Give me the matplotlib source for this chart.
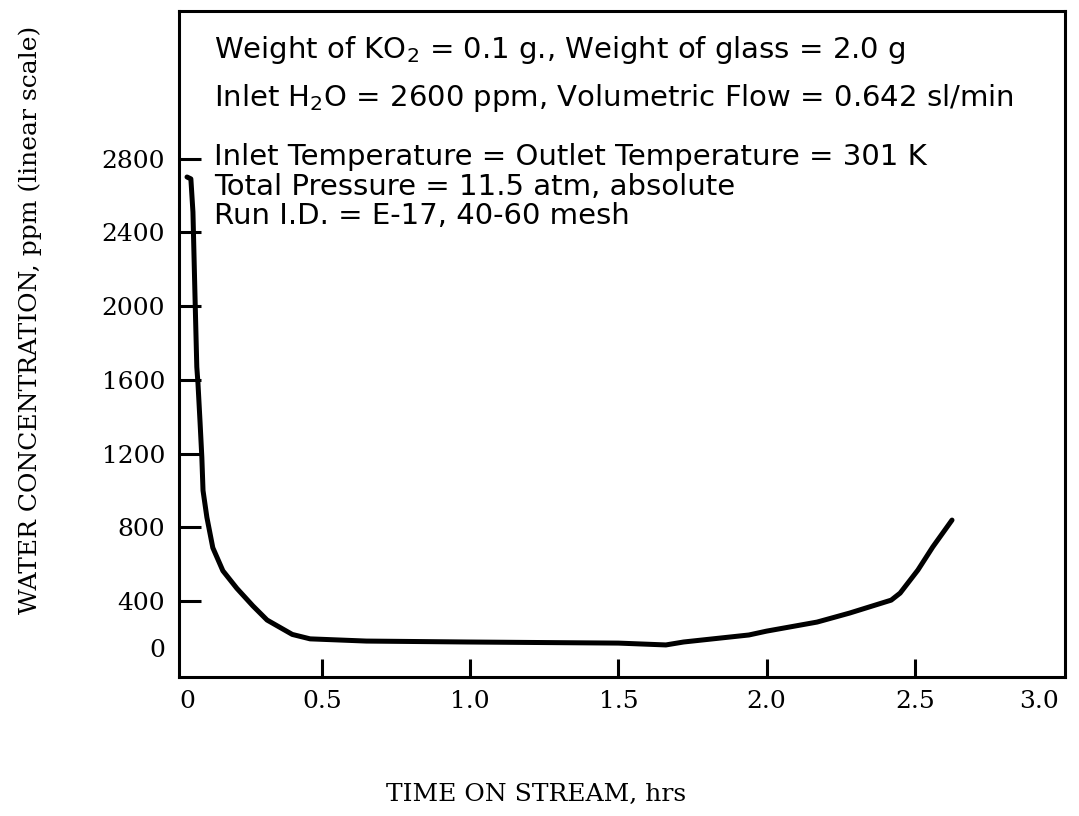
import matplotlib
matplotlib.use("Agg")
import matplotlib.pyplot as plt

# ---- data ----
time_hrs = [0.045, 0.058, 0.065, 0.072, 0.078, 0.082, 0.089, 0.095, 0.099, 0.112,
            0.132, 0.166, 0.213, 0.267, 0.315, 0.40, 0.46, 0.65, 0.99, 1.50,
            1.66, 1.72, 1.94, 2.00, 2.17, 2.28, 2.42, 2.45, 2.51, 2.56, 2.625]
water_ppm = [2700, 2690, 2510, 2050, 1670, 1580, 1370, 1180, 1000, 855,
             690, 565, 470, 375, 298, 220, 196, 184, 179, 173,
             163, 179, 217, 238, 287, 336, 406, 444, 569, 694, 840]

x_tick_pos = [0.045, 0.5, 1.0, 1.5, 2.0, 2.5, 2.92]
x_tick_labels = ["0", "0.5", "1.0", "1.5", "2.0", "2.5", "3.0"]
y_tick_pos = [146, 400, 800, 1200, 1600, 2000, 2400, 2800]
y_tick_labels = ["0", "400", "800", "1200", "1600", "2000", "2400", "2800"]

notes = [
    r"Weight of KO$_2$ = 0.1 g., Weight of glass = 2.0 g",
    r"Inlet H$_2$O = 2600 ppm, Volumetric Flow = 0.642 sl/min",
    "Inlet Temperature = Outlet Temperature = 301 K",
    "Total Pressure = 11.5 atm, absolute",
    "Run I.D. = E-17, 40-60 mesh",
]
note_y = [0.9414, 0.8694, 0.7808, 0.7357, 0.6922]

plt.rcParams["mathtext.fontset"] = "dejavusans"

fig = plt.figure(figsize=(10.79, 8.16), dpi=100)
ax = fig.add_axes([0.1659, 0.1703, 0.8211, 0.8162])

ax.plot(time_hrs, water_ppm, color="black", lw=3.6, solid_capstyle="round",
        solid_joinstyle="round")

ax.set_xlim(0.018, 3.006)
ax.set_ylim(-11, 3600)

for s in ax.spines.values():
    s.set_linewidth(2.2)

ax.set_xticks(x_tick_pos)
ax.set_xticklabels(x_tick_labels, fontsize=18, family="DejaVu Serif")
ax.set_yticks(y_tick_pos)
ax.set_yticklabels(y_tick_labels, fontsize=18, family="DejaVu Serif")
ax.tick_params(axis="x", direction="in", length=13, width=2.2, pad=9)
ax.tick_params(axis="y", direction="in", length=16, width=2.2, pad=10)
for t in (ax.xaxis.get_major_ticks()[0], ax.xaxis.get_major_ticks()[-1],
          ax.yaxis.get_major_ticks()[0]):
    t.tick1line.set_visible(False)

fig.text(0.497, 0.026, "TIME ON STREAM, hrs", fontsize=18, family="DejaVu Serif",
         ha="center", va="center")
fig.text(0.028, 0.608, "WATER CONCENTRATION, ppm (linear scale)", fontsize=18,
         family="DejaVu Serif", rotation=90, ha="center", va="center")

for txt, yy in zip(notes, note_y):
    ax.text(0.04, yy, txt, transform=ax.transAxes, fontsize=21,
            family="DejaVu Sans", ha="left", va="center")

fig.savefig("out.png", dpi=100)
